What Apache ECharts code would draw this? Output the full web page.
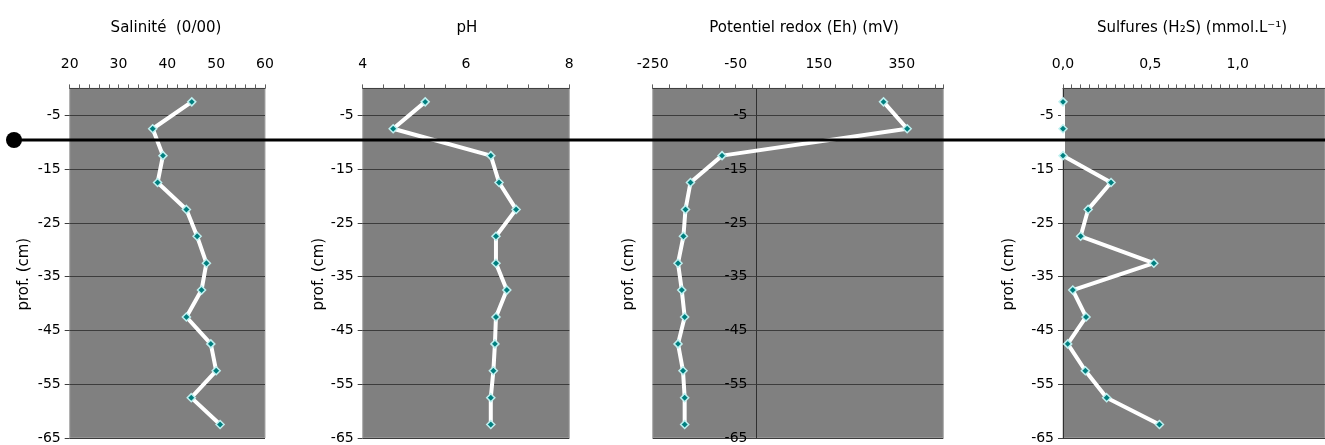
<!DOCTYPE html>
<html>
<head>
<meta charset="utf-8">
<script src="https://cdn.jsdelivr.net/npm/echarts@6/dist/echarts.min.js"></script>
<style>
html,body{margin:0;padding:0;background:#fff;}
#chart{width:1325px;height:445px;}
</style>
</head>
<body>
<div id="chart"></div>
<script>
// Data
const depth = [-2.5, -7.5, -12.5, -17.5, -22.5, -27.5, -32.5, -37.5, -42.5, -47.5, -52.5, -57.5, -62.5];
const salinite = [45.0, 37.0, 39.1, 38.0, 43.9, 46.1, 48.0, 47.0, 43.9, 48.9, 50.0, 44.9, 50.8];
const ph = [5.21, 4.59, 6.48, 6.64, 6.97, 6.58, 6.58, 6.79, 6.58, 6.56, 6.53, 6.48, 6.48];
const eh = [306, 363, -83, -159, -171, -176, -189, -180, -173, -189, -177, -173, -173];
const sulfures = [0, 0, 0, 0.275, 0.144, 0.101, 0.52, 0.056, 0.132, 0.027, 0.128, 0.25, 0.552];
const titles = ['Salinité  (0/00)', 'pH', 'Potentiel redox (Eh) (mV)', 'Sulfures (H₂S) (mmol.L⁻¹)'];
const yName = 'prof. (cm)';

const FONT = 'DejaVu Sans';
const chart = echarts.init(document.getElementById('chart'));

const panels = [
  {vals: salinite, min: 20, max: 60, interval: 10, minor: 5, left: 69.7, width: 195.3, titleX: 161, showYLine: false, nameGap: 38, fmt: v => String(v)},
  {vals: ph, min: 4, max: 8, interval: 2, minor: 5, left: 362.7, width: 206.6, titleX: 462, showYLine: false, nameGap: 34, fmt: v => String(v)},
  {vals: eh, min: -250, max: 450, interval: 200, minor: 5, left: 652.7, width: 290.6, titleX: 799, showYLine: true, nameGap: 120, fmt: v => String(v)},
  {vals: sulfures, min: 0, max: 1.5, interval: 0.5, minor: 10, left: 1063, width: 292.5, titleX: 1187, showYLine: true, nameGap: 46, fmt: v => v.toFixed(1).replace('.', ',')}
];

const grid = [], xAxis = [], yAxis = [], series = [], title = [];
panels.forEach((p, i) => {
  // vertical axis sits where the horizontal scale crosses zero (inside the plot when 0 is in range)
  const zeroOffset = (p.min < 0 && p.max > 0) ? -((0 - p.min) / (p.max - p.min)) * p.width : 0;
  grid.push({left: p.left, top: 88.4, width: p.width, height: 351, show: true,
    backgroundColor: '#808080', borderColor: '#a8a8a8', borderWidth: 1, containLabel: false});
  title.push({text: titles[i], left: p.titleX, top: 16, textAlign: 'center',
    textStyle: {fontFamily: FONT, fontSize: 15, fontWeight: 'normal', color: '#000'}});
  xAxis.push({type: 'value', gridIndex: i, position: 'top', min: p.min, max: p.max, interval: p.interval,
    axisLine: {show: true, onZero: false, lineStyle: {color: '#404040', width: 1}},
    axisTick: {show: true, length: 4, inside: false, lineStyle: {color: '#606060'}},
    minorTick: {show: true, splitNumber: p.minor, length: 4, lineStyle: {color: '#606060'}},
    splitLine: {show: false},
    axisLabel: {margin: 17, fontFamily: FONT, fontSize: 14, color: '#000', showMaxLabel: i === 0 || i === 1,
      formatter: v => p.fmt(v)}
  });
  yAxis.push({type: 'value', gridIndex: i, min: -65, max: 0, interval: 10, position: 'left', offset: zeroOffset,
    name: yName, nameLocation: 'middle', nameGap: p.nameGap, nameRotate: 90,
    nameTextStyle: {fontFamily: FONT, fontSize: 15, color: '#000', padding: [0, 22, 0, 0]},
    axisLine: {show: p.showYLine, onZero: false, lineStyle: {color: '#303030', width: 1}},
    axisTick: {show: true, length: 5, lineStyle: {color: '#404040'}},
    splitLine: {show: true, lineStyle: {color: '#3c3c3c', width: 1}},
    axisLabel: {margin: 9, fontFamily: FONT, fontSize: 14, color: '#000', showMaxLabel: false,
      formatter: v => (v === 0 ? '' : String(v))}
  });
  series.push({type: 'line', xAxisIndex: i, yAxisIndex: i,
    data: depth.map((d, k) => [p.vals[k], d]),
    lineStyle: {color: '#ffffff', width: 4},
    symbol: 'diamond', symbolSize: 8, showSymbol: true,
    itemStyle: {color: '#007f7f', borderColor: '#bff0f0', borderWidth: 1.5},
    emphasis: {disabled: true}, animation: false, z: 3});
});

chart.setOption({
  animation: false,
  backgroundColor: '#ffffff',
  title, grid, xAxis, yAxis, series,
  graphic: [
    {type: 'line', shape: {x1: 14, y1: 140, x2: 1325, y2: 140}, style: {stroke: '#000', lineWidth: 3}, z: 100},
    {type: 'circle', shape: {cx: 14, cy: 140, r: 8}, style: {fill: '#000'}, z: 100}
  ]
});
</script>
</body>
</html>
